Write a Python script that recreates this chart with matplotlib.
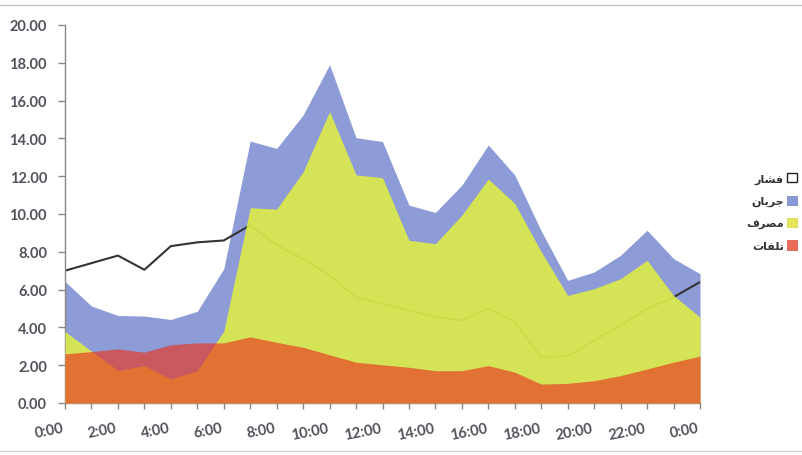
import matplotlib
matplotlib.use("Agg")
import matplotlib.pyplot as plt
from matplotlib.patches import Patch
from matplotlib.lines import Line2D

# ---- data ----
hours = list(range(25))
tick_labels = ["0:00", "2:00", "4:00", "6:00", "8:00", "10:00", "12:00",
               "14:00", "16:00", "18:00", "20:00", "22:00", "0:00"]

flow = [6.43, 5.13, 4.63, 4.60, 4.42, 4.85, 7.10, 13.86, 13.47, 15.24, 17.90,
        14.04, 13.83, 10.47, 10.08, 11.53, 13.65, 12.06, 9.10, 6.49, 6.93,
        7.82, 9.14, 7.64, 6.84]
consumption = [3.78, 2.75, 1.71, 1.98, 1.27, 1.71, 3.80, 10.33, 10.26, 12.23,
               15.42, 12.07, 11.92, 8.61, 8.43, 9.94, 11.85, 10.56, 8.00,
               5.69, 6.05, 6.58, 7.55, 5.69, 4.54]
losses = [2.60, 2.72, 2.86, 2.69, 3.08, 3.18, 3.18, 3.50, 3.21, 2.95, 2.55,
          2.16, 2.02, 1.89, 1.71, 1.71, 1.98, 1.63, 1.00, 1.04, 1.18, 1.45,
          1.80, 2.16, 2.48]
pressure = [7.00, 7.40, 7.80, 7.05, 8.30, 8.50, 8.60, 9.40, 8.35, 7.64, 6.76,
            5.60, 5.25, 4.90, 4.54, 4.37, 5.00, 4.28, 2.42, 2.48, 3.31, 4.10,
            4.99, 5.60, 6.40]

# legend labels (Persian, in presentation forms / visual order)
lbl_pressure = "\uFEAD\uFE8E\uFEB8\uFED3"          # فشار
lbl_flow = "\uFEE5\uFE8E\uFBFE\uFEAE\uFE9F"         # جریان
lbl_cons = "\uFED1\uFEAE\uFEBC\uFEE3"               # مصرف
lbl_loss = "\uFE95\uFE8E\uFED4\uFEE0\uFE97"         # تلفات

# ---- figure ----
W, H = 802, 456
fig = plt.figure(figsize=(W / 100, H / 100), dpi=100)
ax = fig.add_axes([65 / W, 1 - 404 / H, (700 - 65) / W, (404 - 26) / H])

blue = "#8d9bd6"
green_raw = "#dcea4c"
red_raw = "#ea3620"
line_col = "#333333"

ax.fill_between(hours, 0, flow, color=blue, lw=0, zorder=1)
ax.plot(hours, pressure, color=line_col, lw=1.5, zorder=2)
ax.fill_between(hours, 0, consumption, color=green_raw, alpha=0.92, lw=0, zorder=3)
ax.fill_between(hours, 0, losses, color=red_raw, alpha=0.65, lw=0, zorder=4)

ax.set_xlim(0, 24)
ax.set_ylim(0, 20)
ax.set_yticks([0, 2, 4, 6, 8, 10, 12, 14, 16, 18, 20])
ax.set_yticklabels([f"{v:.2f}" for v in range(0, 21, 2)])
ax.set_xticks(hours)
ax.set_xticklabels([tick_labels[i // 2] if i % 2 == 0 else "" for i in hours],
                   rotation=11, ha="right")

tick_col = "#55505a"
for lab in ax.get_yticklabels() + ax.get_xticklabels():
    lab.set_fontfamily("Lato")
    lab.set_fontweight("bold")
    lab.set_fontsize(10.5)
    lab.set_color(tick_col)

ax.tick_params(axis="y", direction="out", length=5, width=1, color="#888888", pad=8)
ax.tick_params(axis="x", direction="out", length=4, width=1, color="#888888", pad=9)
for s in ("top", "right"):
    ax.spines[s].set_visible(False)
for s in ("left", "bottom"):
    ax.spines[s].set_color("#888888")
    ax.spines[s].set_linewidth(1)

handles = [
    Patch(facecolor="white", edgecolor="#222222", lw=1.0),
    Patch(facecolor="#8a9ad8", edgecolor="#6f7fc0", lw=0.5),
    Patch(facecolor="#e6e85a", edgecolor="#d0d040", lw=0.5),
    Patch(facecolor="#ec6a58", edgecolor="#d05040", lw=0.5),
]
leg = fig.legend(handles, [lbl_pressure, lbl_flow, lbl_cons, lbl_loss],
                 loc="center right", bbox_to_anchor=(797 / W, 1 - 213 / H),
                 frameon=False, markerfirst=False, borderpad=0, borderaxespad=0,
                 handlelength=0.9, handleheight=0.9, handletextpad=0.3,
                 labelspacing=1.05,
                 prop={"family": "DejaVu Sans", "weight": "bold", "size": 8})
for t in leg.get_texts():
    t.set_color("#333333")

# faint scan edges at top and bottom
fig.add_artist(Line2D([0, 1], [1 - 6 / H, 1 - 6 / H], transform=fig.transFigure,
                      color="#c8c8c8", lw=1))
fig.add_artist(Line2D([0, 1], [1 - 452 / H, 1 - 452 / H], transform=fig.transFigure,
                      color="#d0d0d0", lw=1))

fig.savefig("out.png", dpi=100, facecolor="white")
